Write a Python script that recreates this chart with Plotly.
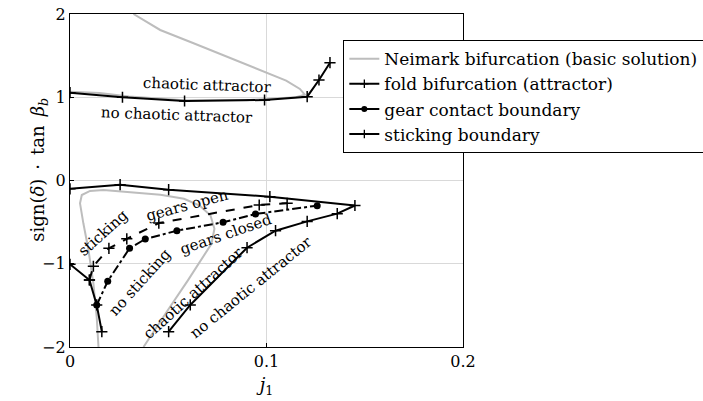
import plotly.graph_objects as go

# Neimark bifurcation (basic solution) - upper branch
neimark_top_x = [0.0323, 0.0459, 0.0629, 0.0799, 0.0969, 0.1100, 0.1170, 0.1195, 0.1150, 0.1050, 0.0900, 0.0600, 0.0300, 0.0150, 0.0]
neimark_top_y = [2.0, 1.808, 1.648, 1.487, 1.327, 1.200, 1.100, 1.030, 1.000, 0.985, 0.965, 0.960, 1.010, 1.050, 1.065]
# Neimark bifurcation - lower loop
neimark_bot_x = [0.0145, 0.0136, 0.0119, 0.0094, 0.0068, 0.0051, 0.0060, 0.0102, 0.0170, 0.0289, 0.0460, 0.0580, 0.0660, 0.0715, 0.0735, 0.0720, 0.0670, 0.0600, 0.0500, 0.0374]
neimark_bot_y = [-2.0, -1.64, -1.235, -0.835, -0.514, -0.274, -0.174, -0.125, -0.114, -0.135, -0.170, -0.220, -0.300, -0.420, -0.580, -0.760, -0.950, -1.200, -1.550, -2.0]

# fold bifurcation (attractor)
fold_top_x = [0.0, 0.0267, 0.0583, 0.0990, 0.1207, 0.1267, 0.1323]
fold_top_y = [1.055, 1.000, 0.955, 0.967, 1.007, 1.207, 1.415]
fold_mid_x = [0.0, 0.0255, 0.0502, 0.1017, 0.1450, 0.1360, 0.1207, 0.1046, 0.0901, 0.0612, 0.0502]
fold_mid_y = [-0.100, -0.050, -0.110, -0.194, -0.300, -0.398, -0.491, -0.603, -0.807, -1.495, -1.816]
fold_left_x = [0.0, 0.0099, 0.0136, 0.0162]
fold_left_y = [-1.007, -1.195, -1.495, -1.816]

# gear contact boundary
gear_x = [0.0136, 0.0192, 0.0303, 0.0383, 0.0544, 0.0779, 0.0944, 0.1258]
gear_y = [-1.495, -1.210, -0.815, -0.703, -0.603, -0.502, -0.402, -0.302]

# sticking boundary
stick_x = [0.0099, 0.0119, 0.0198, 0.0289, 0.0452, 0.0963, 0.1105]
stick_y = [-1.195, -1.030, -0.815, -0.701, -0.511, -0.294, -0.274]

FONT = "DejaVu Serif"
GRAY = "#bdbdbd"

fig = go.Figure()

plus = dict(symbol="cross-thin", size=8, line=dict(width=1.5, color="black"), color="black")
plus_leg = dict(symbol="cross-thin", size=6, line=dict(width=1.3, color="black"), color="black")
dot = dict(symbol="circle", size=7, color="black")

fig.add_trace(go.Scatter(x=neimark_top_x, y=neimark_top_y, mode="lines",
                         line=dict(color=GRAY, width=2), showlegend=False))
fig.add_trace(go.Scatter(x=neimark_bot_x, y=neimark_bot_y, mode="lines",
                         line=dict(color=GRAY, width=2), showlegend=False))
for xs, ys in [(fold_top_x, fold_top_y), (fold_mid_x, fold_mid_y), (fold_left_x, fold_left_y)]:
    fig.add_trace(go.Scatter(x=xs, y=ys, mode="lines+markers",
                             line=dict(color="black", width=2), marker=plus, showlegend=False))
fig.add_trace(go.Scatter(x=stick_x, y=stick_y, mode="lines+markers",
                         line=dict(color="black", width=2, dash="dash"), marker=plus, showlegend=False))
fig.add_trace(go.Scatter(x=gear_x, y=gear_y, mode="lines+markers",
                         line=dict(color="black", width=2, dash="dashdot"), marker=dot, showlegend=False))

# legend entries
fig.add_trace(go.Scatter(x=[None], y=[None], mode="lines", line=dict(color=GRAY, width=2),
                         name="Neimark bifurcation (basic solution)"))
fig.add_trace(go.Scatter(x=[None], y=[None], mode="lines+markers", line=dict(color="black", width=2),
                         marker=plus_leg, name="fold bifurcation (attractor)"))
fig.add_trace(go.Scatter(x=[None], y=[None], mode="lines+markers", line=dict(color="black", width=2),
                         marker=dict(symbol="circle", size=6, color="black"), name="gear contact boundary"))
fig.add_trace(go.Scatter(x=[None], y=[None], mode="lines+markers", line=dict(color="black", width=2),
                         marker=plus_leg, name="sticking boundary"))

labels = [
    ("chaotic attractor", 0.0700, 1.150, 2),
    ("no chaotic attractor", 0.0544, 0.790, 2),
    ("sticking", 0.0168, -0.630, -42),
    ("gears open", 0.0600, -0.294, -15),
    ("gears closed", 0.0796, -0.643, -19),
    ("no sticking", 0.0357, -1.220, -48),
    ("chaotic attractor", 0.0628, -1.350, -42),
    ("no chaotic attractor", 0.0923, -1.280, -39),
]
for txt, x, y, ang in labels:
    fig.add_annotation(x=x, y=y, text=txt, showarrow=False, textangle=ang,
                       font=dict(family=FONT, size=15, color="black"))

# y-axis title as annotation for precise placement
fig.add_annotation(xref="paper", yref="paper", x=-0.115, y=0.532,
                   text="sign(<i>\u03b4</i>)\u2002\u00b7\u2002tan\u2002<i>\u03b2</i><sub><i>b</i></sub>",
                   showarrow=False, textangle=-90,
                   font=dict(family=FONT, size=18, color="black"))

axis_common = dict(showline=True, linecolor="black", linewidth=1.2, mirror=True,
                   showgrid=True, gridcolor="#d9d9d9", gridwidth=1, zeroline=False,
                   ticks="inside", ticklen=4, tickcolor="black",
                   tickfont=dict(family=FONT, size=16, color="black"))

fig.update_xaxes(range=[0, 0.2], tickvals=[0, 0.1, 0.2], ticktext=["0", "0.1", "0.2"],
                 title=dict(text="<i>j</i><sub>1</sub>", font=dict(family=FONT, size=18, color="black"),
                            standoff=8), **axis_common)
fig.update_yaxes(range=[-2, 2], tickvals=[-2, -1, 0, 1, 2], ticktext=["\u22122", "\u22121", "0", "1", "2"],
                 **axis_common)

fig.update_layout(
    width=703, height=401,
    margin=dict(l=70, r=240, t=14, b=54, autoexpand=False),
    plot_bgcolor="white", paper_bgcolor="white",
    font=dict(family=FONT, size=16, color="black"),
    legend=dict(x=0.695, y=0.922, xanchor="left", yanchor="top",
                bgcolor="white", bordercolor="black", borderwidth=1.2,
                font=dict(family=FONT, size=17, color="black"),
                tracegroupgap=0, itemwidth=30),
)

fig.write_html("out.html")
